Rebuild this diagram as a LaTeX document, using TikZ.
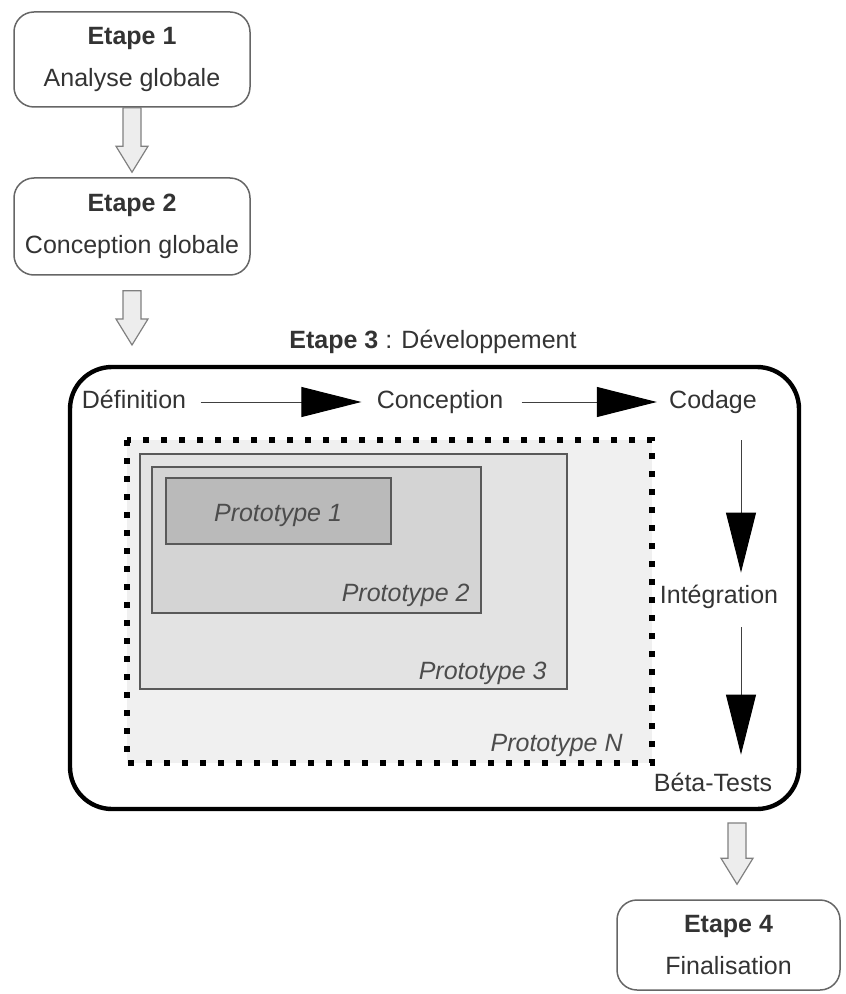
\documentclass[tikz,border=0pt]{standalone}
\usepackage{fontspec}
\setmainfont{Liberation Sans}
\usetikzlibrary{arrows.meta,calc}

\begin{document}
\begin{tikzpicture}[x=0.5pt,y=-0.5pt,
  etape/.style={draw=black!60, line width=0.75pt, rounded corners=10pt, align=center, text=black!80, font=\fontsize{12.5}{21}\selectfont},
  phase/.style={inner sep=0pt, text height=9pt, text depth=3pt, text=black!80, font=\fontsize{12.5}{15}\selectfont},
  plabel/.style={phase, font=\fontsize{12.5}{15}\selectfont\itshape, text=black!70},
  proto/.style={draw=black!65, line width=0.8pt},
  flow/.style={draw=black!75, line width=0.5pt, -{Triangle[length=30pt,width=15pt,color=black]}},
  hollow/.style={draw=black!50, fill=black!7, line width=0.6pt, to path={let \p1=(\tikztostart), \p2=(\tikztotarget) in
    (\x1-4.5pt,\y1) -- (\x1-4.5pt,\y2+13pt) -- (\x1-8pt,\y2+13pt) -- (\x1,\y2) -- (\x1+8pt,\y2+13pt) -- (\x1+4.5pt,\y2+13pt) -- (\x1+4.5pt,\y1) -- cycle}}]
    \useasboundingbox (0,0) rectangle (845,994);

    \node[etape, minimum width=118pt, minimum height=47.5pt] (e1) at (132,59.5) {\textbf{Etape 1}\\Analyse globale};
    \node[etape, minimum width=118pt, minimum height=48.5pt] (e2) at (132,226.5) {\textbf{Etape 2}\\Conception globale};
    \node[etape, minimum width=111.5pt, minimum height=45pt] (e4) at (728.5,945) {\textbf{Etape 4}\\Finalisation};

    \node[phase] (t3) at (433,342) {\textbf{Etape 3} : Développement};
    \draw[line width=2.2pt, rounded corners=21pt] (70,367) rectangle (799,809);

    \filldraw[fill=black!6, line width=3pt, dash pattern=on 3pt off 6pt] (127,440) rectangle (652,763);
    \filldraw[proto, fill=black!11] (140,454) rectangle (567,689);
    \filldraw[proto, fill=black!17] (152,467) rectangle (481,613);
    \filldraw[proto, fill=black!27] (166,478) rectangle (391,544);

    \node[plabel] (p1) at (278,515) {Prototype 1};
    \node[plabel, anchor=east] (p2) at (470,595) {Prototype 2};
    \node[plabel, anchor=east] (p3) at (547,673) {Prototype 3};
    \node[plabel, anchor=east] (pn) at (623,745) {Prototype N};

    \node[phase] (def) at (134,402) {Définition};
    \node[phase] (con) at (440,402) {Conception};
    \node[phase] (cod) at (713,402) {Codage};
    \node[phase] (int) at (719,597) {Intégration};
    \node[phase] (bt) at (713,785) {Béta-Tests};

    \draw[flow, shorten <=7pt, shorten >=7.5pt] (def) -- (con);
    \draw[flow, shorten <=9pt, shorten >=6pt] (con) -- (cod);
    \draw[flow, shorten <=13pt, shorten >=6pt] ([xshift=14pt]cod.south) -- ([xshift=11pt]int.north);
    \draw[flow, shorten <=9pt, shorten >=9pt] ([xshift=11pt]int.south) -- ([xshift=14pt]bt.north);

    \coordinate (a2tip) at (132,345);
    \coordinate (a3top) at (737,823);
    \draw[hollow] (e1.south) to ([yshift=2.5pt]e2.north);
    \draw[hollow] ([yshift=-7.5pt]e2.south) to (a2tip);
    \draw[hollow] (a3top) to ([yshift=7.5pt]e4.north);
\end{tikzpicture}
\end{document}
